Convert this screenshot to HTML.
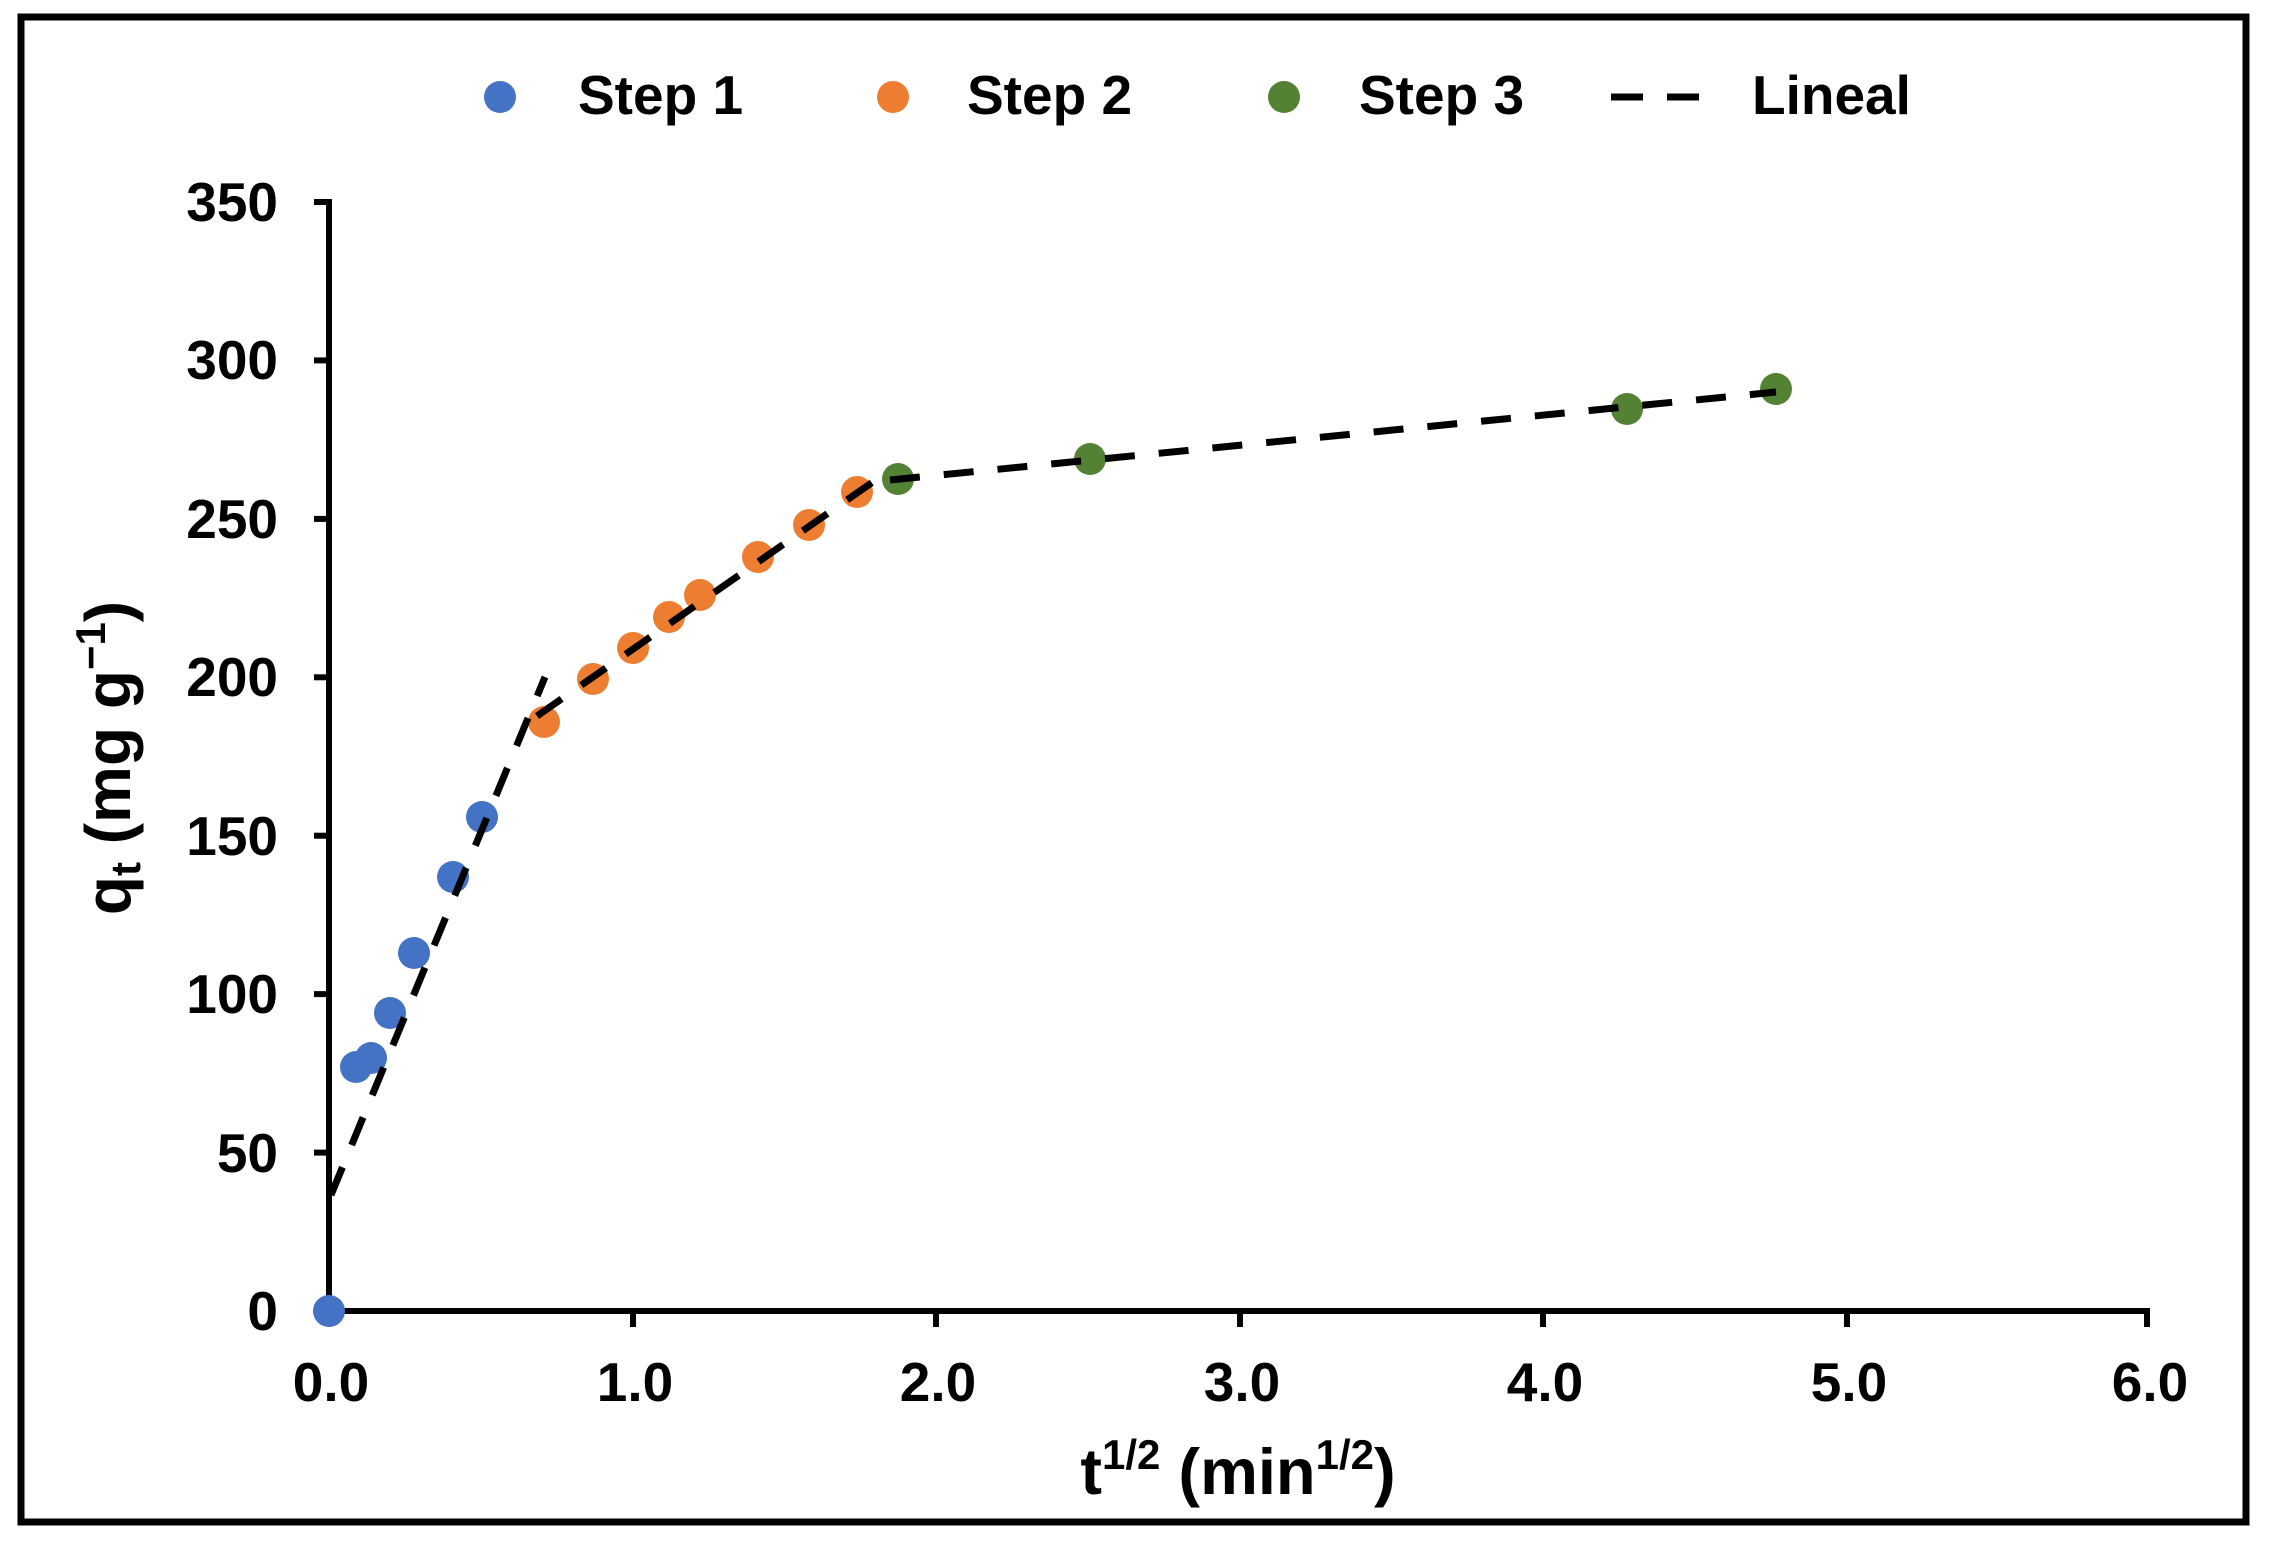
<!DOCTYPE html>
<html><head><meta charset="utf-8"><style>
html,body{margin:0;padding:0;background:#fff;}
svg{display:block;}
text{font-family:"Liberation Sans",Arial,sans-serif;font-weight:bold;fill:#000;}
</style></head><body>
<svg width="2276" height="1554" viewBox="0 0 2276 1554" xmlns="http://www.w3.org/2000/svg">
<rect x="0" y="0" width="2276" height="1554" fill="#fff"/>
<rect x="21" y="17" width="2225" height="1505" fill="none" stroke="#000" stroke-width="7"/>
<!-- legend -->
<circle cx="500" cy="97" r="16" fill="#4472C4"/>
<text x="578" y="114" font-size="55">Step 1</text>
<circle cx="893" cy="97" r="16" fill="#ED7D31"/>
<text x="967" y="114" font-size="55">Step 2</text>
<circle cx="1284" cy="97" r="16" fill="#548235"/>
<text x="1359" y="114" font-size="55">Step 3</text>
<line x1="1611" y1="97" x2="1713" y2="97" stroke="#000" stroke-width="7" stroke-dasharray="32,24"/>
<text x="1752" y="114" font-size="55">Lineal</text>
<!-- axes -->
<g stroke="#000" stroke-width="6" fill="none">
<line x1="329" y1="199" x2="329" y2="1314"/>
<line x1="326" y1="1311" x2="2150" y2="1311"/>
<line x1="314" y1="202" x2="329" y2="202"/>
<line x1="314" y1="360.4" x2="329" y2="360.4"/>
<line x1="314" y1="518.9" x2="329" y2="518.9"/>
<line x1="314" y1="677.3" x2="329" y2="677.3"/>
<line x1="314" y1="835.7" x2="329" y2="835.7"/>
<line x1="314" y1="994.1" x2="329" y2="994.1"/>
<line x1="314" y1="1152.6" x2="329" y2="1152.6"/>
<line x1="633" y1="1311" x2="633" y2="1327"/>
<line x1="936" y1="1311" x2="936" y2="1327"/>
<line x1="1240" y1="1311" x2="1240" y2="1327"/>
<line x1="1543" y1="1311" x2="1543" y2="1327"/>
<line x1="1847" y1="1311" x2="1847" y2="1327"/>
<line x1="2147" y1="1308" x2="2147" y2="1327"/>
</g>
<g font-size="55" text-anchor="end">
<text x="278" y="221">350</text>
<text x="278" y="379">300</text>
<text x="278" y="538">250</text>
<text x="278" y="696">200</text>
<text x="278" y="855">150</text>
<text x="278" y="1013">100</text>
<text x="278" y="1172">50</text>
<text x="278" y="1330">0</text>
</g>
<g font-size="55" text-anchor="middle">
<text x="331" y="1401">0.0</text>
<text x="635" y="1401">1.0</text>
<text x="938" y="1401">2.0</text>
<text x="1242" y="1401">3.0</text>
<text x="1545" y="1401">4.0</text>
<text x="1849" y="1401">5.0</text>
<text x="2150" y="1401">6.0</text>
</g>
<text x="1238" y="1494" font-size="65" text-anchor="middle">t<tspan font-size="42" dy="-25">1/2</tspan><tspan dy="25"> (min</tspan><tspan font-size="42" dy="-25">1/2</tspan><tspan dy="25">)</tspan></text>
<text transform="translate(130,758) rotate(-90)" font-size="64" text-anchor="middle">q<tspan font-size="42" dy="10">t</tspan><tspan dy="-10"> (mg g</tspan><tspan font-size="42" dy="-25">−1</tspan><tspan dy="25">)</tspan></text>
<!-- markers -->
<g fill="#4472C4">
<circle cx="329" cy="1311" r="16"/>
<circle cx="356" cy="1067" r="16"/>
<circle cx="371" cy="1058" r="16"/>
<circle cx="390" cy="1013" r="16"/>
<circle cx="414" cy="953" r="16"/>
<circle cx="453" cy="877" r="16"/>
<circle cx="482" cy="817" r="16"/>
</g>
<g fill="#ED7D31">
<circle cx="544" cy="722" r="16"/>
<circle cx="593" cy="679" r="16"/>
<circle cx="633" cy="648" r="16"/>
<circle cx="669" cy="617" r="16"/>
<circle cx="700" cy="595" r="16"/>
<circle cx="758" cy="557" r="16"/>
<circle cx="809" cy="525" r="16"/>
<circle cx="857" cy="492" r="16"/>
</g>
<g fill="#548235">
<circle cx="898" cy="479" r="16"/>
<circle cx="1090" cy="459" r="16"/>
<circle cx="1627" cy="409" r="16"/>
<circle cx="1776" cy="389" r="16"/>
</g>
<!-- trend lines -->
<g stroke="#000" stroke-width="7" fill="none" stroke-dasharray="30,24">
<line x1="331" y1="1195" x2="545" y2="677"/>
<line x1="537" y1="716" x2="890" y2="470"/>
<line x1="890" y1="480" x2="1776" y2="392"/>
</g>
</svg>
</body></html>
